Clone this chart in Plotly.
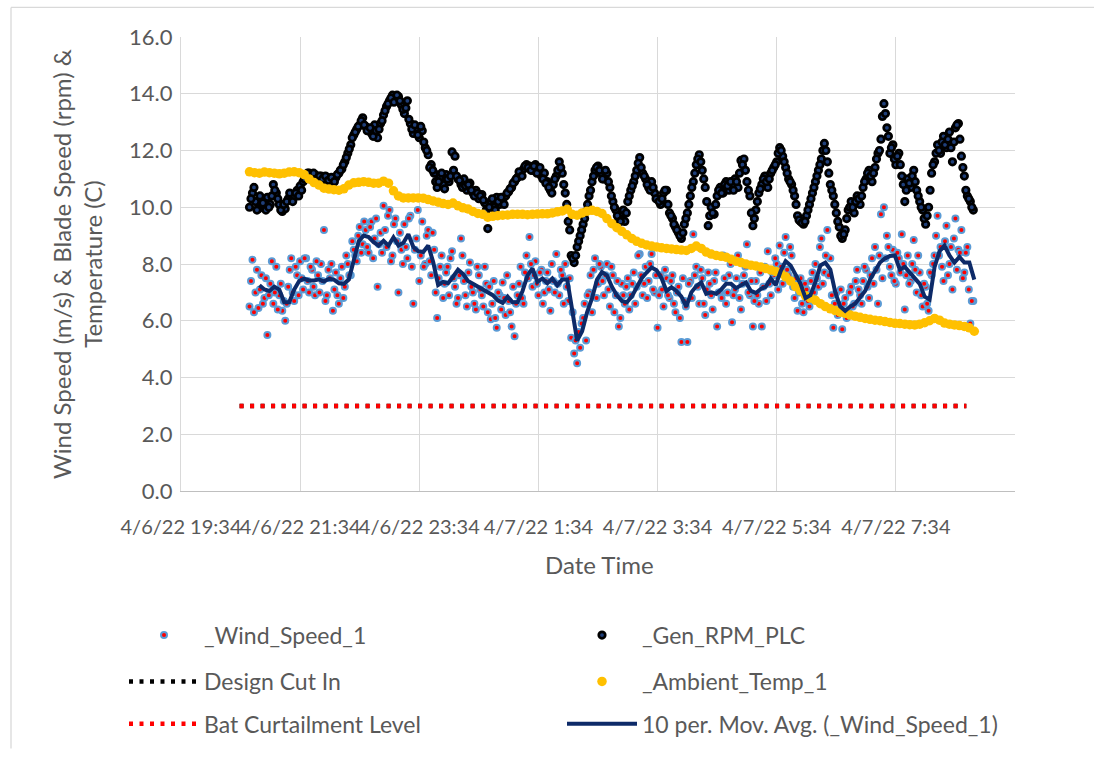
import pandas as pd
import plotly.graph_objects as go

# ---------------- data ----------------
start_time = "2022-04-06 20:43"   # first sample; wind / rpm every 3 min (+ half-step samples), temperature every 5 min

wind_speed = [
    6.5, 8.15, 7.0, 6.45, 7.6, 6.8, 5.5, 7.3, 6.6, 7.9,
    6.9, 6.35, 6.0, 7.2, 8.2, 6.7, 7.6, 8.1, 7.1, 8.2,
    7.0, 7.8, 6.9, 7.6, 8.0, 9.2, 6.9, 7.5, 6.35, 7.7,
    6.6, 7.9, 7.2, 8.0, 7.6, 8.5, 8.1, 9.3, 8.7, 9.2,
    8.4, 9.5, 8.9, 7.2, 9.1, 10.05, 8.6, 9.9, 8.3, 9.6,
    7.0, 8.5, 9.4, 8.2, 9.7, 6.6, 8.9, 7.4, 9.5, 8.0,
    9.2, 7.6, 8.5, 6.1, 7.9, 6.8, 7.7, 6.9, 8.45, 7.2,
    6.8, 8.9, 7.4, 6.5, 8.05, 7.0, 6.4, 7.6, 6.9, 7.9,
    6.3, 6.05, 7.4, 5.75, 6.9, 7.35, 6.2, 6.7, 5.8, 5.45,
    6.9, 7.9, 6.6, 8.3, 8.95, 7.2, 8.1, 6.9, 7.8, 7.0,
    7.7, 6.35, 7.4, 8.35, 6.9, 7.6, 8.0, 6.7, 5.4, 4.85,
    4.5, 5.05, 6.1, 5.3, 7.0, 6.3, 8.2, 7.3, 7.9, 6.9,
    8.0, 6.5, 7.6, 6.9, 5.8, 7.3, 6.6, 7.5, 6.9, 7.7,
    7.2, 8.35, 6.9, 7.9, 7.4, 8.35, 7.0, 5.75, 7.6, 6.5,
    7.5, 6.8, 7.6, 6.3, 7.2, 5.25, 6.7, 5.25, 7.4, 9.05,
    7.9, 6.6, 7.5, 6.2, 7.7, 6.9, 7.4, 5.8, 7.0, 8.3,
    6.6, 7.6, 5.95, 7.1, 8.3, 6.4, 7.6, 8.7, 6.9, 5.8,
    7.4, 6.6, 5.8, 7.9, 8.45, 6.9, 7.6, 8.0, 8.65, 7.3,
    8.95, 7.6, 8.3, 6.8, 6.35, 7.5, 6.3, 7.1, 6.5, 7.7,
    8.0, 7.2, 8.9, 7.7, 9.2, 8.2, 5.75, 7.0, 6.4, 5.7,
    6.8, 6.3, 7.2, 6.6, 7.8, 6.9, 7.4, 7.8, 6.8, 8.2,
    8.6, 6.6, 9.75, 10.0, 9.0, 7.9, 8.5, 7.3, 8.2, 9.05,
    6.4, 8.3, 7.4, 8.85, 7.0, 7.7, 6.5, 7.2, 6.35, 7.6,
    8.3, 9.7, 8.6, 7.4, 9.35, 8.0, 7.1, 9.6, 8.5, 9.2,
    7.7, 8.6, 5.9, 6.7,
]

# samples half-way (1.5 min) between the ones above
wind_speed_mid = [
    7.4, 6.3, 7.8, 7.1, 6.6, 7.5, 6.9, 8.1, 7.0, 6.4,
    7.3, 6.7, 6.6, 7.8, 7.0, 7.9, 6.9, 7.5, 8.2, 7.4,
    7.9, 7.2, 8.1, 7.0, 7.4, 6.7, 7.8, 8.0, 7.1, 6.9,
    7.5, 6.8, 8.3, 7.6, 8.8, 8.3, 9.0, 8.4, 9.5, 8.6,
    9.3, 8.2, 9.6, 8.7, 8.4, 9.2, 9.7, 8.1, 9.4, 8.8,
    9.1, 8.0, 8.6, 9.6, 7.9, 8.5, 9.9, 8.3, 7.9, 9.0,
    8.1, 9.1, 7.0, 7.5, 8.3, 7.3, 7.9, 8.2, 7.5, 6.6,
    7.6, 8.3, 6.9, 7.7, 7.2, 6.6, 7.9, 7.1, 6.5, 7.3,
    7.2, 6.6, 6.1, 7.0, 6.4, 6.8, 7.6, 6.3, 7.2, 6.6,
    7.3, 6.8, 7.7, 7.5, 8.0, 7.6, 7.3, 7.7, 6.6, 7.4,
    7.1, 8.0, 7.0, 7.3, 7.8, 6.6, 7.2, 7.5, 6.3, 5.3,
    5.6, 5.9, 6.6, 6.9, 7.6, 7.8, 6.8, 8.0, 7.4, 7.6,
    7.1, 7.9, 6.3, 7.4, 6.1, 6.9, 7.2, 6.4, 7.3, 6.6,
    8.3, 7.6, 7.3, 6.8, 8.0, 7.1, 7.6, 6.9, 7.1, 7.8,
    6.9, 7.4, 6.6, 7.0, 6.1, 7.5, 6.5, 7.3, 6.8, 7.6,
    7.2, 7.8, 6.6, 7.1, 7.3, 6.4, 7.7, 7.0, 6.8, 7.5,
    7.0, 8.0, 6.9, 7.5, 6.8, 7.3, 7.9, 7.0, 7.4, 6.7,
    6.9, 7.7, 7.2, 6.7, 7.3, 7.7, 8.2, 7.1, 7.9, 8.4,
    7.8, 8.6, 7.2, 7.5, 7.0, 6.6, 7.3, 6.7, 7.4, 7.0,
    7.5, 8.6, 7.3, 8.3, 7.6, 6.9, 6.6, 6.2, 7.1, 6.6,
    6.1, 7.0, 6.5, 7.4, 7.1, 6.6, 7.9, 7.2, 7.6, 7.3,
    7.8, 8.3, 7.5, 8.2, 8.6, 7.6, 7.4, 8.4, 7.7, 8.0,
    7.6, 7.3, 8.0, 7.8, 8.3, 6.9, 7.3, 6.6, 7.7, 8.0,
    9.0, 8.3, 7.9, 8.8, 7.6, 8.6, 8.9, 7.8, 8.4, 7.5,
    8.4, 7.1, 6.7,
]

gen_rpm = [
    10.0, 10.5, 10.2, 9.95, 10.3, 10.05, 10.35, 10.1, 10.8, 10.5,
    10.1, 9.85, 9.95, 10.3, 10.45, 10.35, 10.6, 10.75, 10.9, 11.1,
    11.2, 11.05, 11.15, 11.0, 11.1, 10.95, 11.05, 10.9, 11.0, 11.05,
    11.2, 11.35, 11.6, 11.9, 12.2, 12.55, 12.75, 12.9, 13.15, 12.85,
    12.7, 12.6, 12.9, 12.45, 12.95, 13.25, 13.55, 13.75, 13.95, 13.85,
    13.9, 13.6, 13.3, 13.75, 12.95, 12.6, 12.8, 12.45, 12.7, 12.1,
    11.85, 11.5, 11.2, 10.7, 11.05, 10.8, 11.15, 10.9, 11.95, 11.8,
    11.0, 10.8, 11.0, 10.6, 10.85, 10.5, 10.6, 10.3, 10.45, 10.15,
    9.25, 10.2, 10.0, 10.35, 10.1, 10.25, 10.4, 10.55, 10.7, 10.9,
    11.05, 11.2, 11.35, 11.5, 11.45, 11.3, 11.5, 11.3, 11.1, 11.2,
    10.9, 10.6, 10.8, 11.1, 11.6, 11.2, 10.5, 9.5, 8.3, 8.05,
    8.6, 9.0, 9.4, 9.85, 10.4, 10.9, 11.3, 11.45, 11.2, 11.0,
    11.2, 10.7, 10.2, 9.9, 9.6, 9.8, 9.5, 10.2, 10.6, 10.9,
    11.3, 11.75, 11.2, 11.0, 10.7, 10.9, 10.5, 10.3, 10.1, 10.5,
    10.6, 9.8, 9.6, 9.3, 9.1, 8.9, 9.4, 9.8, 10.4, 10.9,
    11.5, 11.85, 11.3, 10.7, 9.35, 10.0, 9.75, 10.4, 10.7, 10.5,
    10.9, 10.6, 10.8, 11.0, 10.7, 11.65, 11.7, 10.9, 10.4, 9.35,
    9.9, 10.5, 10.8, 11.1, 10.7, 11.2, 11.4, 11.6, 12.1, 11.8,
    11.4, 11.0, 10.8, 10.4, 9.7, 9.5, 9.4, 9.7, 10.1, 10.5,
    10.9, 11.3, 11.7, 12.25, 11.6, 10.8, 10.4, 9.8, 9.3, 8.9,
    9.2, 9.9, 10.2, 9.8, 10.4, 10.1, 10.7, 11.0, 11.3, 10.9,
    11.4, 11.9, 12.4, 13.65, 12.8, 11.9, 12.2, 11.5, 11.9, 11.1,
    10.2, 11.0, 10.7, 11.3, 10.6, 10.2, 9.9, 9.4, 10.0, 11.2,
    11.6, 12.2, 11.9, 12.5, 12.1, 12.65, 11.6, 12.8, 12.95, 11.8,
    11.1, 10.4, 10.2, 9.9,
]

gen_rpm_mid = [
    10.3, 10.7, 9.9, 10.4, 10.15, 9.9, 10.0, 10.4, 10.6, 10.3,
    9.9, 10.1, 10.2, 10.5, 10.2, 10.5, 10.4, 10.6, 11.0, 11.2,
    11.0, 11.2, 10.95, 11.1, 11.0, 11.1, 10.95, 11.05, 10.9, 11.15,
    11.3, 11.5, 11.75, 12.05, 12.45, 12.65, 12.85, 13.05, 12.9, 12.7,
    12.8, 12.5, 12.7, 12.75, 13.05, 13.4, 13.65, 13.85, 13.7, 13.95,
    13.75, 13.45, 13.5, 13.1, 12.75, 12.9, 12.55, 12.85, 12.3, 12.0,
    11.4, 11.3, 10.9, 10.9, 11.2, 10.65, 11.0, 11.1, 11.3, 11.1,
    10.95, 10.7, 10.75, 10.8, 10.6, 10.4, 10.5, 10.4, 10.25, 9.9,
    10.0, 10.3, 9.9, 10.2, 10.35, 10.1, 10.5, 10.65, 10.85, 11.0,
    11.25, 11.1, 11.45, 11.4, 11.3, 11.45, 11.2, 11.4, 11.0, 10.85,
    10.7, 10.5, 11.0, 11.3, 11.4, 10.8, 10.1, 9.2, 8.2, 8.3,
    8.8, 9.2, 9.6, 10.1, 10.6, 11.1, 11.4, 11.3, 11.0, 11.3,
    10.9, 10.4, 10.0, 9.7, 9.5, 9.9, 9.8, 10.4, 10.75, 11.1,
    11.55, 11.4, 11.1, 10.8, 10.6, 10.7, 10.3, 10.2, 10.3, 10.6,
    10.1, 9.7, 9.4, 9.2, 9.0, 9.1, 9.6, 10.1, 10.7, 11.2,
    11.7, 11.6, 11.0, 10.2, 9.7, 9.8, 10.1, 10.6, 10.5, 10.8,
    10.75, 10.9, 10.6, 10.9, 11.2, 11.5, 11.3, 10.6, 9.8, 9.6,
    10.2, 10.65, 11.0, 10.9, 11.0, 11.3, 11.5, 11.9, 12.0, 11.6,
    11.2, 10.9, 10.6, 10.1, 9.55, 9.45, 9.5, 9.9, 10.3, 10.7,
    11.1, 11.5, 12.0, 12.0, 11.2, 10.6, 10.1, 9.5, 9.0, 9.05,
    9.6, 10.0, 10.0, 10.2, 10.3, 10.4, 10.9, 11.2, 11.1, 11.2,
    11.7, 12.0, 13.2, 13.3, 12.5, 12.1, 11.7, 11.8, 11.5, 10.8,
    10.6, 10.85, 11.1, 10.9, 10.4, 10.0, 9.6, 9.7, 10.6, 11.5,
    11.9, 12.0, 12.3, 12.2, 12.4, 12.1, 12.3, 12.9, 12.4, 11.4,
    10.6, 10.3, 10.0,
]

ambient_temp = [
    11.25, 11.22, 11.2, 11.24, 11.22, 11.2, 11.18, 11.2, 11.24, 11.25,
    11.22, 11.15, 11.0, 10.87, 10.78, 10.67, 10.64, 10.62, 10.6, 10.65,
    10.78, 10.86, 10.88, 10.9, 10.88, 10.85, 10.85, 10.92, 10.85, 10.58,
    10.4, 10.33, 10.33, 10.33, 10.33, 10.32, 10.27, 10.22, 10.18, 10.13,
    10.1, 10.15, 10.05, 9.98, 9.94, 9.85, 9.78, 9.75, 9.65, 9.68,
    9.7, 9.72, 9.73, 9.75, 9.75, 9.75, 9.74, 9.75, 9.76, 9.77,
    9.77, 9.8, 9.84, 9.87, 9.93, 9.75, 9.72, 9.8, 9.86, 9.89,
    9.85, 9.78, 9.6, 9.42, 9.28, 9.15, 9.03, 8.9, 8.8, 8.73,
    8.67, 8.63, 8.6, 8.57, 8.55, 8.53, 8.51, 8.49, 8.48, 8.55,
    8.63, 8.55, 8.42, 8.35, 8.3, 8.27, 8.24, 8.17, 8.1, 8.05,
    8.0, 7.96, 7.93, 7.89, 7.84, 7.79, 7.74, 7.68, 7.55, 7.4,
    7.2, 7.05, 6.88, 6.8, 6.72, 6.6, 6.5, 6.42, 6.36, 6.3,
    6.26, 6.2, 6.16, 6.12, 6.08, 6.05, 6.02, 6.0, 5.97, 5.94,
    5.91, 5.9, 5.88, 5.86, 5.85, 5.88, 5.93, 6.0, 6.08, 6.02,
    5.92, 5.88, 5.85, 5.83, 5.8, 5.75, 5.63,
]

# 10-period moving average of wind speed (trendline), read at 5-minute steps,
# starting two steps after the first temperature sample
wind_mov_avg = [
    7.25, 7.1, 7.05, 7.2, 7.1, 6.65, 6.65, 7.1,
    7.4, 7.48, 7.42, 7.42, 7.46, 7.38, 7.48, 7.45, 7.32, 7.3,
    7.45, 8.1, 8.8, 9.0, 8.95, 8.77, 8.65, 8.82, 8.65, 8.94,
    8.65, 8.75, 9.05, 8.6, 8.45, 8.42, 8.65, 8.07, 7.26, 7.37,
    7.32, 7.55, 7.8, 7.65, 7.4, 7.3, 7.2, 7.1, 6.98, 6.9,
    6.72, 6.63, 6.85, 6.65, 6.66, 7.05, 7.6, 7.84, 7.37, 7.49,
    7.32, 7.49, 7.25, 7.45, 7.45, 6.45, 5.3, 5.63, 6.3, 6.8,
    7.45, 7.72, 7.6, 7.2, 6.9, 6.7, 6.65, 6.85, 7.15, 7.5,
    7.7, 7.88, 7.78, 7.5, 7.05, 7.18, 7.05, 6.85, 6.5, 7.0,
    7.22, 7.35, 6.95, 7.0, 6.95, 7.1, 7.3, 7.3, 7.15, 7.25,
    7.35, 7.05, 6.98, 7.12, 7.2, 7.49, 7.26, 7.75, 8.1, 7.95,
    7.65, 7.3, 6.8, 6.9, 7.37, 7.95, 8.05, 7.8, 7.0, 6.5,
    6.35, 6.5, 6.6, 6.8, 7.05, 7.45, 7.75, 8.05, 8.2, 8.28,
    8.3, 7.8, 7.9, 7.7, 7.55, 7.3, 6.85, 6.75, 7.9, 8.45,
    8.65, 8.3, 8.05, 8.25, 8.05, 8.05, 7.45,
]

level_times = ["2022-04-06 20:33", "2022-04-07 08:45"]
design_cut_in = [3.0, 3.0]
bat_curtailment = [3.0, 3.0]

axis_range = ["2022-04-06 19:34", "2022-04-07 09:34"]
tick_times = ["2022-04-06 19:34", "2022-04-06 21:34", "2022-04-06 23:34",
              "2022-04-07 01:34", "2022-04-07 03:34", "2022-04-07 05:34",
              "2022-04-07 07:34"]
tick_text = ["4/6/22 19:34", "4/6/22 21:34", "4/6/22 23:34", "4/7/22 1:34",
             "4/7/22 3:34", "4/7/22 5:34", "4/7/22 7:34"]

# ---------------- figure ----------------
t3 = pd.date_range(start_time, periods=len(wind_speed), freq="3min")
t3_mid = t3[:len(wind_speed_mid)] + pd.Timedelta("90s")
t5 = pd.date_range(start_time, periods=len(ambient_temp), freq="5min")
t_ma = t5[len(ambient_temp) - len(wind_mov_avg):]

wind_x = list(t3) + list(t3_mid)
wind_y = wind_speed + wind_speed_mid
rpm_x = list(t3) + list(t3_mid[:len(gen_rpm_mid)])
rpm_y = gen_rpm + gen_rpm_mid

FONT = "Lato"
GREY = "#595959"
W, H = 1094, 758
L, R, T, B = 181, 79, 37, 261
PW, PH = W - L - R, H - T - B


def px_x(p):
    return (p - L) / PW


def px_y(p):
    return (H - B - p) / PH


fig = go.Figure()

fig.add_trace(go.Scatter(
    x=wind_x, y=wind_y, mode="markers", name="_Wind_Speed_1", legend="legend",
    marker=dict(size=6, color="#FF0000", line=dict(color="#5B9BD5", width=2))))
fig.add_trace(go.Scatter(
    x=rpm_x, y=rpm_y, mode="markers", name="_Gen_RPM_PLC", legend="legend",
    marker=dict(size=6.5, color="#1F3F7A", line=dict(color="#000000", width=2.7))))
fig.add_trace(go.Scatter(
    x=level_times, y=design_cut_in, mode="lines", name="Design Cut In", legend="legend2",
    line=dict(color="#000000", width=4.5, dash="4px,6.5px")))
fig.add_trace(go.Scatter(
    x=t5, y=ambient_temp, mode="markers", name="_Ambient_Temp_1", legend="legend2",
    marker=dict(size=9.5, color="#FFC000")))
fig.add_trace(go.Scatter(
    x=level_times, y=bat_curtailment, mode="lines", name="Bat Curtailment Level",
    legend="legend3", line=dict(color="#FF0000", width=4.5, dash="4px,6.5px")))
fig.add_trace(go.Scatter(
    x=t_ma, y=wind_mov_avg, mode="lines", name="10 per. Mov. Avg. (_Wind_Speed_1)",
    legend="legend3", line=dict(color="#0D2A68", width=4)))

legend_common = dict(orientation="h", xanchor="left", yanchor="middle",
                     x=px_x(124), entrywidth=353, entrywidthmode="pixels",
                     itemwidth=70, bgcolor="rgba(0,0,0,0)",
                     font=dict(family=FONT, size=23, color=GREY))

fig.update_layout(
    width=W, height=H, autosize=False,
    margin=dict(l=L, r=R, t=T, b=B),
    paper_bgcolor="white", plot_bgcolor="white",
    font=dict(family=FONT, size=22, color=GREY),
    showlegend=True,
    legend=dict(legend_common, y=px_y(643)),
    legend2=dict(legend_common, y=px_y(690)),
    legend3=dict(legend_common, y=px_y(733)),
    xaxis=dict(type="date", range=axis_range, tickvals=tick_times, ticktext=tick_text,
               tickangle=0,
               showgrid=True, gridcolor="#D9D9D9", gridwidth=1.3,
               showline=True, linecolor="#BFBFBF", linewidth=1.3,
               zeroline=False, ticks="", ticklabelstandoff=18,
               tickfont=dict(family=FONT, size=20, color=GREY)),
    yaxis=dict(range=[0, 16], dtick=2, tickformat=".1f",
               showgrid=True, gridcolor="#D9D9D9", gridwidth=1.3,
               showline=True, linecolor="#D9D9D9", linewidth=1.3,
               zeroline=False, ticks="", ticklabelstandoff=3,
               tickfont=dict(family=FONT, size=22, color=GREY)),
    annotations=[
        dict(text="Wind Speed (m/s) & Blade Speed (rpm) &<br>Temperature (C)",
             xref="paper", yref="paper", x=px_x(77), y=px_y(267),
             xanchor="center", yanchor="middle", textangle=-90, showarrow=False,
             font=dict(family=FONT, size=24, color=GREY)),
        dict(text="Date Time", xref="paper", yref="paper", x=px_x(599), y=px_y(571),
             xanchor="center", yanchor="middle", showarrow=False,
             font=dict(family=FONT, size=24, color=GREY)),
    ],
    shapes=[
        dict(type="line", xref="paper", yref="paper", x0=px_x(11), x1=px_x(11),
             y0=px_y(7), y1=px_y(H), line=dict(color="#D9D9D9", width=1.3)),
        dict(type="line", xref="paper", yref="paper", x0=px_x(11), x1=px_x(W),
             y0=px_y(7), y1=px_y(7), line=dict(color="#D9D9D9", width=1.3)),
    ],
)

fig.write_html("out.html", config={"displayModeBar": False},
               post_script="document.body.style.margin='0px';")
